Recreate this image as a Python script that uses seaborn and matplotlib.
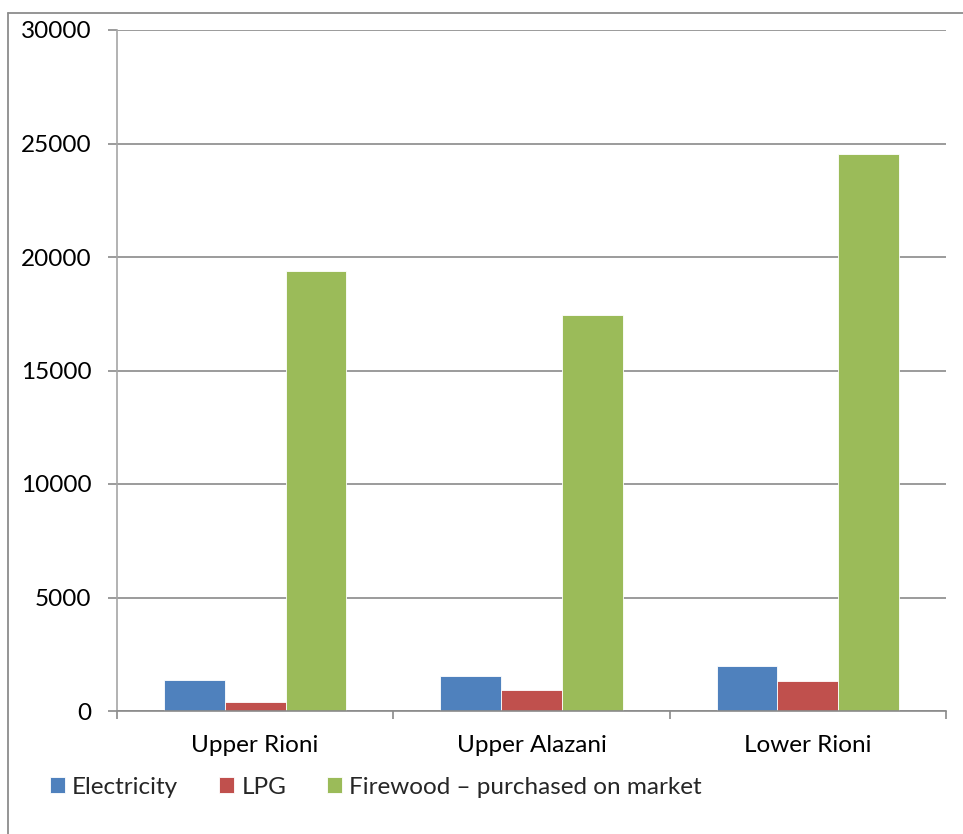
import matplotlib
matplotlib.use("Agg")
import matplotlib.pyplot as plt
from matplotlib.lines import Line2D
import seaborn as sns
import pandas as pd

regions = ["Upper Rioni", "Upper Alazani", "Lower Rioni"]
fuels = ["Electricity", "LPG", "Firewood \u2013 purchased on market"]
electricity = [1370, 1540, 1980]
lpg = [390, 920, 1320]
firewood = [19380, 17450, 24530]
y_ticks = [0, 5000, 10000, 15000, 20000, 25000, 30000]
colors = ["#4F81BD", "#C0504D", "#9BBB59"]

df = pd.DataFrame({
    "region": regions * 3,
    "fuel": [fuels[0]] * 3 + [fuels[1]] * 3 + [fuels[2]] * 3,
    "value": electricity + lpg + firewood,
})

sns.set_theme(style="white")
plt.rcParams["font.family"] = ["Lato", "DejaVu Sans"]

fig = plt.figure(figsize=(9.63, 8.34), dpi=100)
ax = fig.add_axes([117 / 963, 1 - 711 / 834, (946 - 117) / 963, (711 - 30) / 834])

sns.barplot(data=df, x="region", y="value", hue="fuel", order=regions,
            hue_order=fuels, palette=colors, width=0.66, saturation=1,
            edgecolor="white", linewidth=0.6, ax=ax, legend=True)

grid_c = "#8a8a8a"
ax.set_ylim(0, 30000)
ax.set_xlim(-0.5, 2.5)
ax.set_yticks(y_ticks)
ax.set_yticklabels([str(v) for v in y_ticks])
ax.yaxis.grid(True, color=grid_c, linewidth=1.2)
ax.set_axisbelow(True)
ax.set_xlabel("")
ax.set_ylabel("")

for s in ["top", "right"]:
    ax.spines[s].set_visible(False)
ax.spines["left"].set_color("#a6a6a6")
ax.spines["left"].set_linewidth(1.2)
ax.spines["bottom"].set_color(grid_c)
ax.spines["bottom"].set_linewidth(1.2)

ax.tick_params(axis="y", length=6.5, width=1.2, color=grid_c, pad=12,
               labelsize=17.5, labelcolor="black", left=True)
ax.tick_params(axis="x", which="major", length=0, pad=17, labelsize=17.5,
               labelcolor="black")
ax.set_xticks([-0.5, 0.5, 1.5, 2.5], minor=True)
ax.tick_params(axis="x", which="minor", length=5.5, width=1.2, color=grid_c,
               bottom=True)

handles, labels = ax.get_legend_handles_labels()
ax.get_legend().remove()
fig.legend(handles, labels, loc="center", ncol=3, frameon=False,
           bbox_to_anchor=(376 / 963, 1 - 787 / 834), fontsize=17.5,
           handlelength=0.6, handleheight=0.6, handletextpad=0.3,
           columnspacing=1.7)

# outer chart frame
border_c = "#8c8c8c"
fig.add_artist(Line2D([8 / 963, 8 / 963], [0, 1 - 13 / 834], color=border_c,
                      linewidth=1.3, transform=fig.transFigure))
fig.add_artist(Line2D([8 / 963, 1], [1 - 13 / 834, 1 - 13 / 834],
                      color=border_c, linewidth=1.3, transform=fig.transFigure))

fig.savefig("out.png", dpi=100)
